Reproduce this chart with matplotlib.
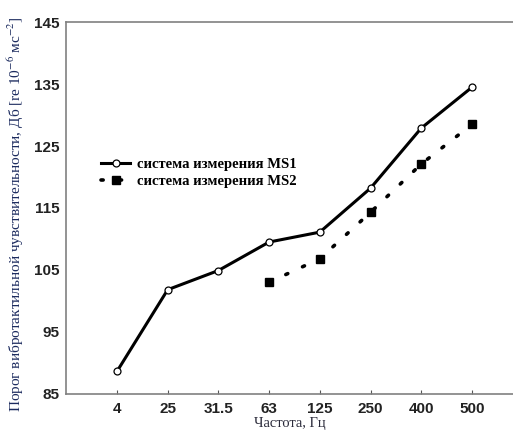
import matplotlib
matplotlib.use('Agg')
import matplotlib.pyplot as plt
import numpy as np

# данные
freqs = ['4', '25', '31.5', '63', '125', '250', '400', '500']
ms1 = [88.6, 101.8, 104.9, 109.5, 111.1, 118.2, 127.9, 134.5]
ms2_freqs = ['63', '125', '250', '400', '500']
ms2 = [103.0, 106.8, 114.3, 122.1, 128.5]

plt.rcParams['mathtext.fontset'] = 'stix'

fig = plt.figure(figsize=(5.13, 4.33), dpi=100)
ax = fig.add_axes([0.1292, 0.0908, 0.8708, 0.8577])

x1 = np.arange(len(freqs))
x2 = [freqs.index(f) for f in ms2_freqs]

ax.plot(x1, ms1, color='black', lw=2.2, marker='o', ms=5,
        mfc='white', mec='black', mew=0.9, label='система измерения MS1')
ax.plot(x2, ms2, color='black', lw=2.6, ls=(0, (0.6, 4.5)),
        dash_capstyle='round', marker='s', ms=5.5, mfc='black', mec='black',
        label='система измерения MS2')

ax.set_xlim(-1, 7.81)
ax.set_ylim(85, 145)
ax.set_xticks(x1)
ax.set_xticklabels(freqs)
ax.set_yticks(range(85, 146, 10))

for lab in ax.get_xticklabels() + ax.get_yticklabels():
    lab.set_fontfamily('Liberation Sans')
    lab.set_fontweight('bold')
    lab.set_fontsize(11)
    lab.set_color('#222222')

ax.tick_params(direction='in', length=3, width=0.8, color='#555555')
ax.tick_params(axis='x', pad=6)
ax.tick_params(axis='y', length=0, pad=5)
for s in ['left', 'bottom', 'top']:
    ax.spines[s].set_color('#808080')
    ax.spines[s].set_linewidth(1.2)
ax.spines['right'].set_visible(False)

ax.set_xlabel('Частота, Гц', family='Liberation Serif', fontsize=10.5,
              color='#2b2b3b', labelpad=1)
ax.set_ylabel(r'Порог вибротактильной чувствительности, Дб [re 10$^{-6}$ мс$^{-2}$]',
              family='Liberation Serif', fontsize=11, color='#1b2a5e')
ax.yaxis.set_label_coords(-0.09, 0.484)

leg = ax.legend(loc='upper left', bbox_to_anchor=(0.049, 0.67), frameon=False,
                prop={'family': 'Liberation Serif', 'weight': 'bold', 'size': 10.5},
                handlelength=2.0, handletextpad=0.45, labelspacing=0.25)

fig.savefig('out.png', dpi=100)
